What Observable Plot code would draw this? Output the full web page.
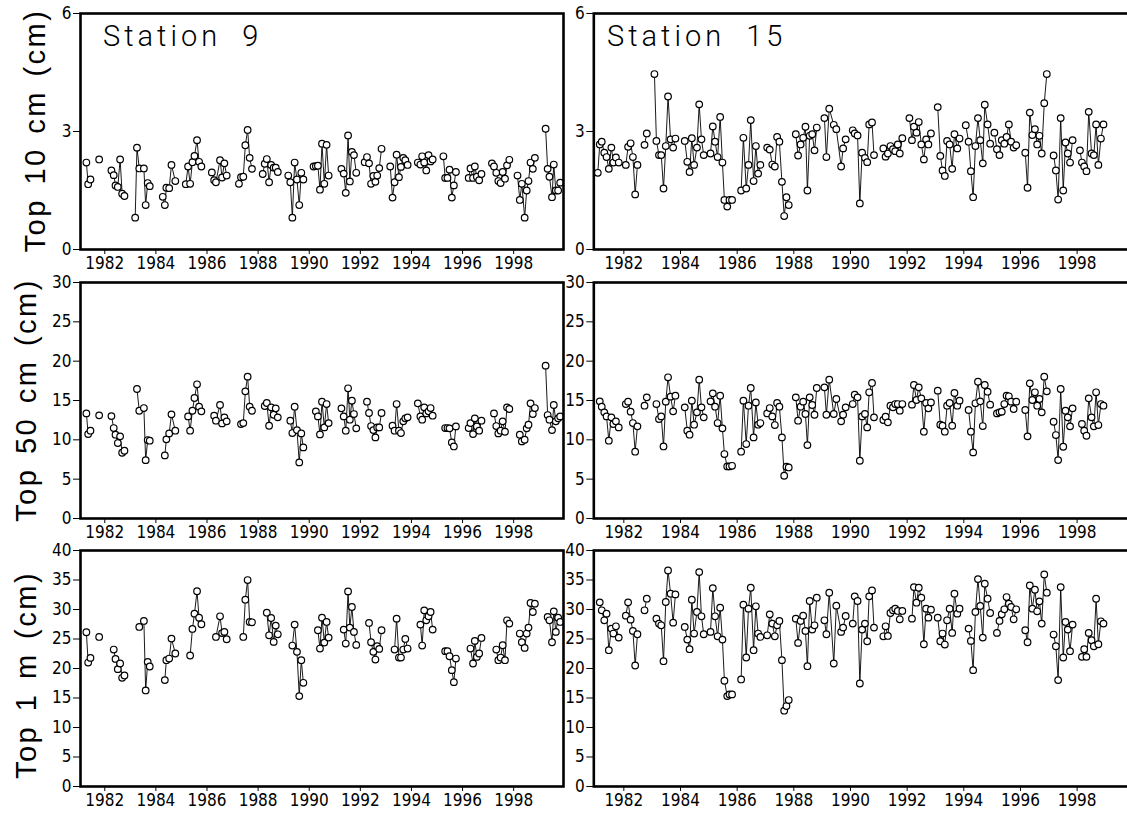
<!DOCTYPE html>
<html><head><meta charset="utf-8">
<script src="https://cdn.jsdelivr.net/npm/d3@7"></script>
<script src="https://cdn.jsdelivr.net/npm/@observablehq/plot@0.6"></script>
<style>
html,body{margin:0;padding:0;background:#fff;overflow:hidden;}
#wrap{position:relative;width:1127px;height:814px;overflow:hidden;background:#fff;}
#wrap svg{position:absolute;max-width:none;}
</style></head><body><div id="wrap"></div>
<script>
// x-axis tick labels (years)
const xTicks = [1982,1984,1986,1988,1990,1992,1994,1996,1998];
const yTicksTop = [0,3,6];
const yTicksMid = [0,5,10,15,20,25,30];
const yTicksBot = [0,5,10,15,20,25,30,35,40];
const stationNames = ["Station 9", "Station 15"];
const depthLabels = ["Top 10 cm (cm)", "Top 50 cm (cm)", "Top 1 m (cm)"];

// Station 9: sampling dates (decimal years), one sub-array per connected run
const s9Dates = [
[1981.28,1981.35,1981.44],
[1981.78],
[1982.26,1982.35,1982.42,1982.51,1982.60,1982.68,1982.77],
[1983.19,1983.26,1983.35,1983.53,1983.60,1983.68,1983.76],
[1984.27,1984.35,1984.41,1984.52,1984.61,1984.76],
[1985.17,1985.26,1985.34,1985.43,1985.51,1985.61,1985.69,1985.78],
[1986.19,1986.28,1986.35,1986.51,1986.59,1986.68,1986.77],
[1987.25,1987.33,1987.42,1987.50,1987.59,1987.67,1987.76],
[1988.18,1988.26,1988.34,1988.43,1988.51,1988.61,1988.69,1988.77],
[1989.18,1989.26,1989.34,1989.43,1989.52,1989.61,1989.69,1989.77],
[1990.17,1990.26,1990.34,1990.42,1990.50,1990.59,1990.68,1990.76],
[1991.26,1991.35,1991.43,1991.52,1991.59,1991.67,1991.75,1991.84],
[1992.17,1992.26,1992.34,1992.42,1992.51,1992.59,1992.66,1992.74,1992.83],
[1993.17,1993.26,1993.34,1993.42,1993.51,1993.59,1993.68,1993.76,1993.85],
[1994.25,1994.35,1994.42,1994.50,1994.58,1994.67,1994.75,1994.83],
[1995.25,1995.32,1995.41,1995.49,1995.58,1995.66,1995.74],
[1996.24,1996.31,1996.41,1996.48,1996.56,1996.65,1996.74],
[1997.15,1997.23,1997.32,1997.40,1997.49,1997.57,1997.66,1997.74,1997.83],
[1998.15,1998.24,1998.32,1998.43,1998.51,1998.58,1998.66,1998.75,1998.83],
[1999.25,1999.33,1999.40,1999.50,1999.57,1999.65,1999.74,1999.82]
];
const s9Top = [
[2.21,1.66,1.78],
[2.29],
[2.01,1.89,1.63,1.59,2.29,1.42,1.36],
[0.81,2.59,2.06,2.06,1.13,1.69,1.61],
[1.34,1.13,1.57,1.56,2.15,1.74],
[1.66,2.11,1.67,2.22,2.38,2.78,2.23,2.11],
[1.96,1.76,1.71,2.27,1.83,2.19,1.88],
[1.67,1.84,1.85,2.65,3.04,2.33,2.05],
[1.92,2.18,2.30,1.71,2.15,2.08,2.08,1.97],
[1.88,1.71,0.81,2.21,1.78,1.13,1.95,1.78],
[2.11,2.12,2.13,1.52,2.69,1.67,2.66,1.88],
[2.05,1.93,1.44,2.90,1.73,2.48,2.40,1.95],
[2.22,2.35,2.19,1.67,1.87,1.72,1.88,2.07,2.56],
[2.11,1.32,1.71,2.41,1.84,2.10,2.33,2.27,2.15],
[2.21,2.16,2.37,2.21,2.01,2.40,2.24,2.29],
[2.37,1.82,1.82,2.03,1.32,1.63,1.97],
[1.82,2.06,1.82,2.11,1.85,1.76,1.92],
[2.19,2.11,1.95,1.74,1.69,1.97,1.80,2.14,2.28],
[1.88,1.26,1.67,0.81,1.50,1.74,2.21,2.05,2.33],
[3.07,2.05,1.85,1.33,2.16,1.50,1.50,1.70]
];
const s9Mid = [
[13.36,10.73,11.16],
[13.11],
[13.02,11.50,10.65,9.59,10.44,8.36,8.61],
[null,16.46,13.70,14.04,7.42,9.97,9.89],
[null,8.02,10.06,10.82,13.24,11.16],
[null,12.98,11.16,13.70,15.32,17.06,14.21,13.62],
[null,13.07,12.43,14.43,12.09,12.86,12.35],
[null,12.00,12.13,16.16,18.03,14.21,13.70],
[null,14.30,14.68,11.79,14.13,13.19,14.00,12.86],
[null,12.43,10.86,14.21,11.24,7.13,10.82,9.04],
[null,13.62,12.98,10.69,14.85,11.58,14.55,12.13],
[14.00,12.98,11.16,16.55,12.56,14.98,13.28,11.46],
[null,14.85,13.41,11.75,11.24,10.31,11.58,11.58,13.41],
[null,11.79,11.16,14.55,11.16,10.86,12.35,12.73,12.86],
[14.64,12.98,12.56,14.13,13.36,13.62,14.04,13.07],
[null,11.50,11.50,11.46,9.67,9.16,11.71],
[11.50,12.13,10.73,12.73,11.71,11.16,12.43],
[null,13.36,11.75,10.82,11.16,12.35,11.03,14.13,13.92],
[null,10.65,9.80,10.01,11.46,11.92,14.64,13.28,14.04],
[19.43,13.15,12.56,11.24,14.43,12.35,12.73,12.98]
];
const s9Bot = [
[26.14,21.01,21.80],
[25.35],
[null,23.21,21.63,19.89,20.85,18.42,18.82],
[null,null,27.04,28.06,16.28,21.13,20.34],
[null,18.03,21.41,21.69,25.07,22.54],
[null,null,22.20,26.70,29.30,33.10,28.60,27.50],
[null,null,25.35,28.85,26.00,26.20,24.96],
[null,null,25.35,31.66,34.99,27.89,27.83],
[null,null,29.46,25.63,28.56,24.51,27.27,25.80],
[null,null,23.89,27.44,22.82,15.32,21.41,17.58],
[null,null,26.48,23.38,28.62,24.39,27.89,25.24],
[null,26.59,24.23,33.07,26.93,30.42,26.20,24.00],
[null,null,27.72,24.45,22.82,21.52,23.77,23.32,26.48],
[null,null,23.21,28.45,21.86,21.86,23.21,25.01,23.38],
[null,27.44,23.89,29.86,28.17,28.85,29.58,26.59],
[null,22.93,22.93,22.08,19.72,17.69,21.69],
[null,23.38,20.85,24.68,21.97,22.54,25.18],
[null,null,23.21,21.41,21.86,23.94,21.41,28.17,27.61],
[null,25.92,24.45,23.49,25.92,26.93,31.10,29.58,30.99],
[null,28.73,28.17,24.45,29.69,26.20,28.62,27.89]
];

// Station 15
const s15Dates = [
[1981.08,1981.15,1981.22,1981.31,1981.39,1981.47,1981.56,1981.63,1981.72,1981.82],
[1982.07,1982.15,1982.24,1982.32,1982.40,1982.48],
[1982.73,1982.81],
[1983.08,1983.15,1983.24,1983.32,1983.40,1983.48,1983.56,1983.65,1983.74,1983.82],
[1984.15,1984.24,1984.32,1984.40,1984.48,1984.58,1984.66,1984.74,1984.82],
[1985.06,1985.14,1985.22,1985.31,1985.40,1985.48,1985.55,1985.65,1985.73,1985.82],
[1986.14,1986.22,1986.32,1986.40,1986.48,1986.58,1986.66,1986.74,1986.82],
[1987.06,1987.15,1987.24,1987.33,1987.41,1987.49,1987.58,1987.66,1987.74,1987.82],
[1988.07,1988.15,1988.24,1988.33,1988.41,1988.48,1988.56,1988.65,1988.73,1988.81],
[1989.08,1989.15,1989.25,1989.41,1989.50,1989.67,1989.74,1989.83],
[1990.08,1990.15,1990.25,1990.33,1990.41,1990.51,1990.59,1990.66,1990.76,1990.83],
[1991.16,1991.24,1991.32,1991.41,1991.50,1991.58,1991.67,1991.74,1991.83],
[1992.08,1992.17,1992.24,1992.33,1992.41,1992.50,1992.59,1992.67,1992.75,1992.84],
[1993.08,1993.17,1993.25,1993.33,1993.41,1993.50,1993.59,1993.67,1993.77,1993.85],
[1994.07,1994.17,1994.25,1994.33,1994.41,1994.50,1994.58,1994.67,1994.74,1994.84,1994.93],
[1995.08,1995.17,1995.26,1995.34,1995.43,1995.51,1995.59,1995.67,1995.76,1995.85],
[1996.17,1996.25,1996.33,1996.42,1996.51,1996.59,1996.67,1996.75,1996.84,1996.93],
[1997.17,1997.25,1997.33,1997.42,1997.51,1997.59,1997.67,1997.75,1997.84],
[1998.10,1998.17,1998.25,1998.33,1998.41,1998.51,1998.59,1998.67,1998.75,1998.84,1998.93]
];
const s15Top = [
[1.95,2.67,2.74,2.46,2.35,2.05,2.59,2.21,2.34,2.21],
[2.15,2.61,2.70,2.35,1.40,2.15],
[2.66,2.95],
[4.46,2.76,2.40,2.40,1.55,2.63,3.89,2.80,2.59,2.82],
[2.76,2.23,1.97,2.83,2.15,2.59,3.69,2.80,2.40],
[2.44,3.13,2.74,2.35,3.37,2.21,1.26,1.09,1.26,1.26],
[1.50,2.84,1.55,2.15,3.29,1.74,2.63,1.93,2.15],
[2.59,2.54,2.16,2.11,2.86,2.74,1.72,0.85,1.33,1.13],
[2.93,2.39,2.67,2.84,3.12,1.50,2.89,2.93,2.52,3.10],
[3.34,2.35,3.58,3.17,3.06,2.11,2.57,2.80],
[3.03,2.95,2.90,1.17,2.46,2.33,2.22,3.18,3.23,2.40],
[2.57,2.36,2.44,2.63,2.55,2.50,2.67,2.44,2.83],
[3.34,2.78,3.12,2.97,3.24,2.67,2.29,2.80,2.67,2.95],
[3.62,2.38,2.01,1.87,2.76,2.67,2.05,2.93,2.57,2.82],
[3.16,2.74,1.99,1.33,2.63,3.34,2.78,2.19,3.68,3.18,2.69],
[2.97,2.55,2.40,2.78,2.69,2.86,3.18,2.74,2.59,2.65],
[2.46,1.57,3.48,2.91,3.06,2.67,2.89,2.44,3.72,4.46],
[2.39,2.01,1.27,3.34,1.50,2.72,2.44,2.21,2.78],
[2.52,2.21,2.11,1.99,3.50,2.44,2.40,3.18,2.15,2.82,3.18]
];
const s15Mid = [
[null,14.89,14.21,13.49,12.98,9.89,12.86,12.01,12.35,11.58],
[14.55,14.85,13.58,12.13,8.49,11.71],
[14.34,15.40],
[null,14.55,12.64,12.98,9.16,14.85,17.95,15.49,13.62,15.61],
[14.13,11.16,10.65,14.98,11.92,13.49,17.65,14.13,12.86],
[14.89,15.91,14.21,12.13,15.61,11.46,8.19,6.62,6.62,6.70],
[8.49,14.98,9.46,14.34,16.59,10.31,14.76,11.92,12.13],
[13.36,14.04,12.98,11.88,14.68,14.21,10.31,5.43,6.58,6.49],
[15.40,12.43,14.21,14.85,13.28,9.33,15.40,14.43,13.19,16.59],
[16.67,13.19,17.65,13.28,15.19,12.35,13.19,14.13],
[14.55,15.74,15.40,7.34,12.98,13.28,11.58,16.04,17.23,12.86],
[12.52,12.94,12.22,14.34,14.13,14.55,14.55,13.70,14.55],
[null,14.47,16.97,15.06,16.67,15.27,11.03,14.68,14.00,14.76],
[16.25,11.92,11.79,11.03,14.34,14.68,11.79,15.95,14.34,14.98],
[null,13.79,11.03,8.40,14.64,17.39,14.89,11.75,16.97,16.12,14.47],
[null,13.36,13.49,13.58,14.55,15.61,15.53,14.85,13.92,14.85],
[13.79,10.44,17.18,15.06,16.04,14.34,15.19,13.49,18.03,16.16],
[12.30,10.61,7.42,16.46,9.12,13.70,12.86,11.71,14.00],
[null,12.01,11.16,10.52,15.27,12.86,11.71,16.04,11.88,14.55,14.34]
];
const s15Bot = [
[null,31.21,29.86,28.17,29.30,23.10,26.76,25.92,27.15,25.24],
[28.96,31.21,28.28,26.37,20.51,25.80],
[29.86,31.83],
[null,28.45,27.61,27.32,21.24,31.27,36.62,32.68,27.77,32.56],
[27.04,24.90,23.27,31.66,25.92,29.58,36.34,28.85,25.80],
[26.20,33.63,28.85,25.46,30.31,24.90,17.92,15.32,15.61,15.61],
[18.14,30.82,21.86,30.14,33.69,23.10,30.54,25.92,25.35],
[25.63,29.18,27.61,25.46,27.32,28.06,21.41,12.85,13.63,14.65],
[28.45,24.34,28.06,28.96,26.37,20.39,31.44,26.59,27.32,32.00],
[28.17,25.80,32.85,20.85,30.65,26.20,26.93,28.90],
[27.61,32.23,31.44,17.46,26.59,27.61,24.62,32.23,33.24,26.93],
[25.46,27.15,25.52,29.41,29.86,30.14,29.75,28.34,29.75],
[null,28.45,33.80,31.15,33.69,32.00,24.11,30.14,28.62,29.97],
[28.62,24.62,25.92,24.06,28.17,30.14,26.03,32.68,29.30,30.14],
[null,26.76,24.68,19.72,29.58,35.15,30.59,25.24,34.37,31.83,29.41],
[null,26.03,28.06,29.20,30.03,32.11,30.99,30.42,28.34,30.03],
[26.48,24.45,34.08,30.14,33.35,29.69,31.38,27.61,35.94,32.85],
[25.75,23.77,18.03,33.80,21.86,27.89,26.59,22.93,27.44],
[null,21.97,23.27,21.97,26.03,24.79,23.77,31.83,24.11,28.00,27.61]
];

const wrap = document.getElementById("wrap");

function mkPanel(dates, vals, o) {
  const data = [];
  dates.forEach((run, r) => run.forEach((d, i) => data.push({date: d, value: vals[r][i], run: r})));
  const svg = Plot.plot({
    width: o.width, height: 281,
    marginLeft: o.ml, marginRight: o.mr, marginTop: 15, marginBottom: 30,
    style: {background: "transparent", color: "black",
      fontFamily: "'Liberation Sans Narrow', 'DejaVu Sans Condensed', sans-serif",
      fontSize: "17px", overflow: "visible"},
    x: {domain: o.xDomain, ticks: xTicks, tickFormat: d => String(d), tickSize: 5, tickPadding: 2, label: null},
    y: {domain: o.yDomain, ticks: o.yTicks, tickFormat: d => String(d), tickSize: 7, tickPadding: 2, label: null},
    marks: [
      Plot.line(data, {x: "date", y: "value", z: "run", stroke: "black", strokeWidth: 0.9}),
      Plot.dot(data, {x: "date", y: "value", r: 3.3, fill: "white", stroke: "black", strokeWidth: 1.2}),
      Plot.frame({stroke: "black", strokeWidth: 2.6})
    ]
  });
  svg.style.left = o.left + "px";
  svg.style.top = o.top + "px";
  svg.style.maxWidth = "none";
  wrap.appendChild(svg);
}

const rowTops = [-2.3, 267, 535];
const yDomains = [[0,6],[0,30],[0,40]];
const yTickSets = [yTicksTop, yTicksMid, yTicksBot];
const s9Vals = [s9Top, s9Mid, s9Bot];
const s15Vals = [s15Top, s15Mid, s15Bot];
for (let k = 0; k < 3; k++) {
  mkPanel(s9Dates, s9Vals[k], {left: 0, top: rowTops[k], width: 568, ml: 80, mr: 5,
    xDomain: [1981.05, 1999.95], yDomain: yDomains[k], yTicks: yTickSets[k]});
  mkPanel(s15Dates, s15Vals[k], {left: 540, top: rowTops[k], width: 603.3, ml: 53.3, mr: 10,
    xDomain: [1980.94, 2000.0], yDomain: yDomains[k], yTicks: yTickSets[k]});
}

// overlay text
const NS = "http://www.w3.org/2000/svg";
const ov = document.createElementNS(NS, "svg");
ov.setAttribute("width", 1127); ov.setAttribute("height", 814);
ov.style.left = "0px"; ov.style.top = "0px"; ov.style.pointerEvents = "none";
function txt(str, attrs) {
  const t = document.createElementNS(NS, "text");
  for (const k in attrs) t.setAttribute(k, attrs[k]);
  t.textContent = str;
  ov.appendChild(t);
}
const stFont = {"font-family": "Roboto, 'Open Sans', sans-serif", "font-weight": 300, "font-size": 29,
  "letter-spacing": 4, "word-spacing": 10, fill: "black"};
txt(stationNames[0], {...stFont, x: 103, y: 46});
txt(stationNames[1], {...stFont, x: 607, y: 46});
const ylFont = {"font-family": "'Liberation Sans', Arial, sans-serif", "font-size": 29,
  "letter-spacing": 2.5, "word-spacing": 3, "text-anchor": "middle", fill: "black"};
txt(depthLabels[0], {...ylFont, transform: "translate(45,130.5) rotate(-90)"});
txt(depthLabels[1], {...ylFont, transform: "translate(36,400) rotate(-90)"});
txt(depthLabels[2], {...ylFont, transform: "translate(36,675) rotate(-90)"});
wrap.appendChild(ov);
</script></body></html>
